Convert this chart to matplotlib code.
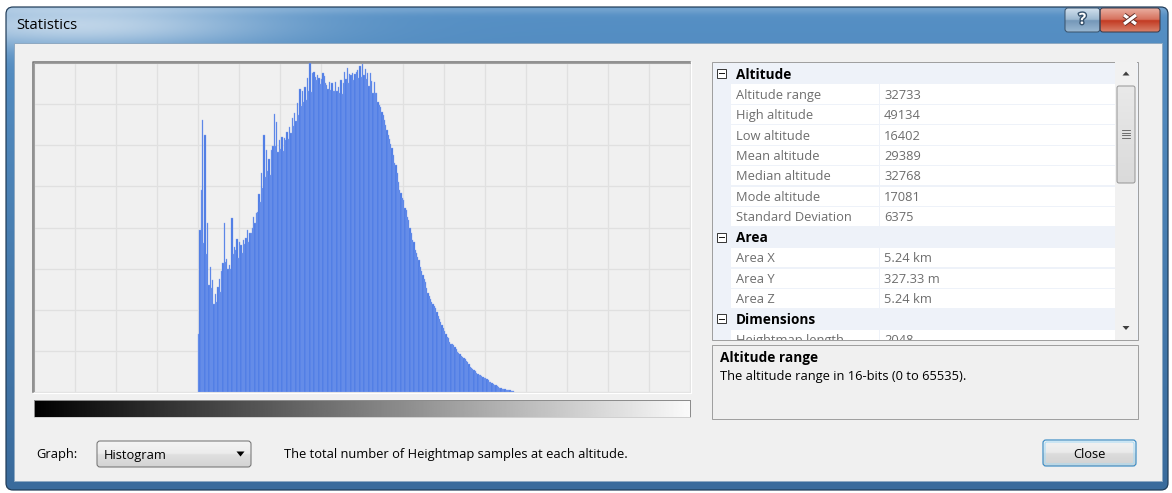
import numpy as np
import matplotlib
matplotlib.use("Agg")
import matplotlib.pyplot as plt
from matplotlib.patches import Rectangle, FancyBboxPatch, Polygon
from matplotlib.colors import to_rgb
from matplotlib.transforms import Bbox, TransformedBbox, IdentityTransform
import matplotlib.patheffects as pe

FONT = ["Open Sans", "DejaVu Sans"]
plt.rcParams["font.family"] = FONT

# ---------------- data ----------------
window_title = "Statistics"
bins_total = 512            # 16-bit altitude split into 512 bins
altitude_max = 65536
hist_first_bin = 128
hist_counts = [
    58, 162, 202, 272, 149, 257, 138, 169, 107, 125, 104, 112, 88, 98, 90, 105,
    113, 100, 121, 129, 169, 130, 133, 123, 127, 123, 174, 138, 145, 142, 153, 134,
    150, 147, 139, 152, 148, 154, 162, 150, 159, 159, 164, 175, 169, 179, 180, 198,
    190, 219, 204, 257, 215, 242, 221, 233, 217, 242, 246, 278, 246, 270, 240, 252,
    243, 255, 241, 254, 252, 260, 253, 265, 259, 274, 266, 279, 271, 289, 277, 303,
    286, 301, 290, 305, 292, 314, 301,
    329, 300, 319, 320, 315, 312, 317, 314, 308, 313, 319, 316, 309, 307, 303, 310,
    302, 309, 301, 301, 310, 301, 305, 299, 312, 298, 309, 320, 313, 324, 309, 318,
    317, 319, 312, 318, 320, 322, 314, 326, 315, 328, 317, 323, 313, 319, 306, 319,
    311, 299, 310, 299, 299, 290, 287, 285, 280, 277, 272, 267, 262, 257, 253, 248,
    244, 237, 229, 227, 219, 210, 202, 199, 194, 192, 184, 182, 175, 172, 164, 159,
    152, 150, 142, 139, 135,
    132, 125, 121, 117, 113, 110, 104, 99, 96, 93, 90, 88, 86, 84, 80, 76, 73, 70,
    67, 64, 61, 58, 55, 54, 50, 48, 48, 47, 45, 43, 40, 39, 38, 36, 35, 34, 33, 31,
    30, 28, 25, 24, 23, 22, 21, 19, 18, 17, 17, 16, 15, 14, 14, 13, 12, 10, 10, 9,
    8, 7, 7, 6, 5, 4, 4, 3, 3, 3, 2, 2, 2, 2, 1, 1, 1,
]
hist_ymax = 329

categories = ["Altitude", "Area", "Dimensions"]
altitude_labels = ["Altitude range", "High altitude", "Low altitude", "Mean altitude",
                   "Median altitude", "Mode altitude", "Standard Deviation"]
altitude_values = ["32733", "49134", "16402", "29389", "32768", "17081", "6375"]
area_labels = ["Area X", "Area Y", "Area Z"]
area_values = ["5.24 km", "327.33 m", "5.24 km"]
dimension_labels = ["Heightmap length"]
dimension_values = ["2048"]

desc_title = "Altitude range"
desc_text = "The altitude range in 16-bits (0 to 65535)."
graph_label = "Graph:"
graph_choice = "Histogram"
graph_desc = "The total number of Heightmap samples at each altitude."
close_label = "Close"

# ---------------- figure ----------------
W, H = 1172, 493
fig = plt.figure(figsize=(W / 100, H / 100), dpi=100)
fig.patch.set_facecolor("white")
bg = fig.add_axes([0, 0, 1, 1])
bg.set_xlim(0, W)
bg.set_ylim(H, 0)
bg.set_autoscale_on(False)
bg.axis("off")

PX = 0.72   # points per pixel
FS = 9.3    # normal font size
FB = 9.8    # bold font size
DY = 1.3    # vertical text nudge


def fr(x0, y0, x1, y1):
    return [x0 / W, 1 - y1 / H, (x1 - x0) / W, (y1 - y0) / H]


def vgrad(stops, n=64):
    ys = np.linspace(0, 1, n)
    cols = np.zeros((n, 1, 3))
    ps = [s[0] for s in stops]
    for c in range(3):
        cols[:, 0, c] = np.interp(ys, ps, [to_rgb(s[1])[c] for s in stops])
    return cols


def gradient_box(x0, y0, x1, y1, stops, edge, r=3, lw=1.0, z=3):
    patch = FancyBboxPatch((x0, y0), x1 - x0, y1 - y0,
                           boxstyle=f"round,pad=0,rounding_size={r}",
                           facecolor="none", edgecolor=edge, lw=lw * PX, zorder=z + 1)
    bg.add_patch(patch)
    im = bg.imshow(vgrad(stops), extent=(x0, x1, y1, y0), aspect="auto",
                   interpolation="bilinear", zorder=z)
    im.set_clip_path(patch)
    return patch


def txt(x, y, s, size=FS, color="black", weight="normal", ha="left", z=10, **kw):
    return bg.text(x, y + DY, s, fontsize=size, color=color, fontweight=weight,
                   ha=ha, va="center", zorder=z, family=FONT, **kw)


# ---- window frame ----
wx0, wy0, wx1, wy1 = 6, 7, 1168, 490
ys = np.arange(wy0, wy1)[:, None] + 0.5
xs = np.arange(wx0, wx1)[None, :] + 0.5
t = (ys - wy0) / (wy1 - wy0)
top_c = np.array(to_rgb("#5690c5"))
bot_c = np.array(to_rgb("#3a6b9c"))
base = top_c[None, None, :] * (1 - t[..., None]) + bot_c[None, None, :] * t[..., None]
base = np.broadcast_to(base, (ys.shape[0], xs.shape[1], 3)).copy()
glow = 0.62 * np.exp(-((xs - 75) / 190.0) ** 2 - ((ys - 25) / 24.0) ** 2)
glow += 0.16 * np.exp(-((ys - 9) / 5.0) ** 2)
glow = np.clip(glow, 0, 1)
img = base * (1 - glow[..., None]) + glow[..., None]
frame_patch = FancyBboxPatch((wx0, wy0), wx1 - wx0, wy1 - wy0,
                             boxstyle="round,pad=0,rounding_size=7",
                             facecolor="none", edgecolor="#1f3b57", lw=1.2 * PX, zorder=2)
bg.add_patch(frame_patch)
fim = bg.imshow(img, extent=(wx0, wx1, wy1, wy0), aspect="auto", zorder=1,
                interpolation="bilinear")
fim.set_clip_path(frame_patch)

# client area
bg.add_patch(Rectangle((14, 43), 1148, 438, facecolor="#f0f0f0",
                       edgecolor="#8fa9c2", lw=1 * PX, zorder=2))
txt(16.5, 24.5, window_title, size=10.6, z=5)

# caption buttons
gradient_box(1065, 8, 1100, 32,
             [(0, "#d2e1ee"), (0.48, "#9cb8d0"), (0.52, "#7497b8"), (1, "#9ab8d2")],
             "#3a536c", r=3, lw=1, z=3)
gradient_box(1100, 8, 1160, 32,
             [(0, "#eab0a2"), (0.48, "#d6705c"), (0.52, "#c23a22"), (1, "#d9826b")],
             "#3a3a48", r=3, lw=1, z=3)
txt(1082.5, 18.5, "?", size=11, color="white", weight="bold", ha="center", z=6,
    path_effects=[pe.withStroke(linewidth=2, foreground="#34506b")])
for (xa, ya, xb, yb) in [(1124, 15, 1136, 24), (1124, 24, 1136, 15)]:
    bg.plot([xa, xb], [ya, yb], color="white", lw=3.2 * PX, solid_capstyle="butt", zorder=6,
            path_effects=[pe.withStroke(linewidth=5 * PX, foreground="#5a2620")])

# ---- histogram ----
hx0, hy0, hx1, hy1 = 34, 63, 690, 392
bg.plot([32.5, 32.5, 690], [392, 61.5, 61.5], color="#7a7a7a", lw=1.6 * PX, zorder=3)
bg.plot([33, 690.5, 690.5], [393, 393, 61.5], color="#ffffff", lw=1.2 * PX, zorder=3)
axh = fig.add_axes(fr(hx0, hy0, hx1, hy1))
axh.set_facecolor("#f0f0f0")
bin_w = altitude_max / bins_total
left_edges = (hist_first_bin + np.arange(len(hist_counts))) * bin_w
axh.bar(left_edges, hist_counts, width=bin_w, align="edge", color="#4877e3",
        edgecolor="#86a6f1", linewidth=0.35 * PX, zorder=3)
axh.set_xlim(0, altitude_max)
axh.set_ylim(0, hist_ymax)
axh.set_xticks(np.arange(0, altitude_max + 1, altitude_max / 16))
axh.set_yticks(np.linspace(0, hist_ymax, 9))
axh.grid(True, color="#e0e0e0", lw=1.3 * PX, zorder=0)
axh.tick_params(length=0, labelbottom=False, labelleft=False)
axh.set_axisbelow(True)
for s in ["top", "left"]:
    axh.spines[s].set_color("#a0a0a0")
    axh.spines[s].set_linewidth(1 * PX)
for s in ["bottom", "right"]:
    axh.spines[s].set_color("#e4e4e4")
    axh.spines[s].set_linewidth(1 * PX)

# gradient bar
axg = fig.add_axes(fr(34, 400, 690, 417))
axg.imshow(np.linspace(0, 1, 512)[None, :], cmap="gray", aspect="auto",
           vmin=0, vmax=1.02)
axg.set_xticks([])
axg.set_yticks([])
for s in axg.spines.values():
    s.set_color("#8c8c8c")
    s.set_linewidth(1 * PX)
axg.spines["bottom"].set_color("#d0d0d0")

# ---- bottom controls ----
txt(36, 453, graph_label)
gradient_box(97, 441, 251, 467,
             [(0, "#f4f4f4"), (0.48, "#ececec"), (0.52, "#dfdfdf"), (1, "#d3d3d3")],
             "#707070", r=3, lw=1, z=3)
txt(104, 454, graph_choice, z=6)
bg.add_patch(Polygon([(236.5, 451.5), (244.5, 451.5), (240.5, 456.5)],
                     closed=True, facecolor="black", edgecolor="none", zorder=6))
txt(284, 453, graph_desc)

gradient_box(1043, 440, 1136, 466,
             [(0, "#f3f3f3"), (0.48, "#eaeaea"), (0.52, "#dcdcdc"), (1, "#d2d2d2")],
             "#3c8dc5", r=3, lw=1.2, z=3)
bg.add_patch(FancyBboxPatch((1045, 442), 89, 22, boxstyle="round,pad=0,rounding_size=2",
                            facecolor="none", edgecolor="#a6dbf6", lw=1 * PX, zorder=5))
txt(1089, 453, close_label, ha="center", z=6)

# ---- property grid ----
gx0, gy0, gx1, gy1 = 711.5, 61.5, 1137.5, 340
bg.add_patch(Rectangle((gx0, gy0), gx1 - gx0, gy1 - gy0, facecolor="#eef2f9",
                       edgecolor="#a0a0a0", lw=1 * PX, zorder=3))
clip_rect = Rectangle((712, 62), 403, 277.5, transform=bg.transData, facecolor="none",
                      edgecolor="none")
clip_box = TransformedBbox(Bbox([[712, H - 339.5], [1115, H - 62]]), IdentityTransform())


def clip_text(tobj):
    tobj.set_clip_path(None)
    tobj.set_clip_box(clip_box)
    tobj.set_clip_on(True)


rows = []
for cat, labels, values in [(categories[0], altitude_labels, altitude_values),
                            (categories[1], area_labels, area_values),
                            (categories[2], dimension_labels, dimension_values)]:
    rows.append(("cat", cat, ""))
    for lab, val in zip(labels, values):
        rows.append(("prop", lab, val))

row_h = 20.47
row_y0 = 73.3
for i, (kind, lab, val) in enumerate(rows):
    yc = row_y0 + i * row_h
    if kind == "cat":
        r = Rectangle((716.5, yc - 4.5), 9, 9, facecolor="white", edgecolor="#3a3a3a",
                      lw=1 * PX, zorder=5)
        bg.add_patch(r)
        r.set_clip_path(clip_rect)
        ln, = bg.plot([718.5, 723.5], [yc, yc], color="#1a1a1a", lw=1 * PX, zorder=6)
        ln.set_clip_path(clip_rect)
        tt = txt(736, yc, lab, size=FB, weight="bold", z=6)
        clip_text(tt)
    else:
        for (cx0, cx1) in [(731, 878.5), (880, 1114.5)]:
            rc = Rectangle((cx0, yc - row_h / 2 + 0.8), cx1 - cx0, row_h - 1.2,
                           facecolor="white", edgecolor="none", zorder=4)
            bg.add_patch(rc)
            rc.set_clip_path(clip_rect)
        t1 = txt(736, yc, lab, color="#6d6d6d", z=6)
        t2 = txt(884, yc, val, color="#6d6d6d", z=6)
        clip_text(t1)
        clip_text(t2)

# scrollbar
bg.add_patch(Rectangle((1115, 62), 22, 277.5, facecolor="#f1f1f1", edgecolor="none",
                       zorder=5))
bg.add_patch(Polygon([(1122.5, 75.5), (1129.5, 75.5), (1126, 71.5)], closed=True,
                     facecolor="#3f3f3f", edgecolor="none", zorder=6))
bg.add_patch(Polygon([(1122.5, 326), (1129.5, 326), (1126, 330)], closed=True,
                     facecolor="#3f3f3f", edgecolor="none", zorder=6))
gradient_box(1117, 86, 1135, 183, [(0, "#e9e9e9"), (1, "#dadada")], "#979797",
             r=2, lw=1, z=6)
for gy in [130, 132.5, 135, 137.5]:
    bg.plot([1122, 1130], [gy, gy], color="#555555", lw=0.8 * PX, zorder=8)

# ---- description pane ----
bg.add_patch(Rectangle((711.5, 345), 426, 74, facecolor="#f0f0f0", edgecolor="#a0a0a0",
                       lw=1 * PX, zorder=3))
txt(720, 356.5, desc_title, size=FB, weight="bold", z=6)
txt(720, 375.5, desc_text, z=6)

fig.savefig("out.png", dpi=100, facecolor="white")
